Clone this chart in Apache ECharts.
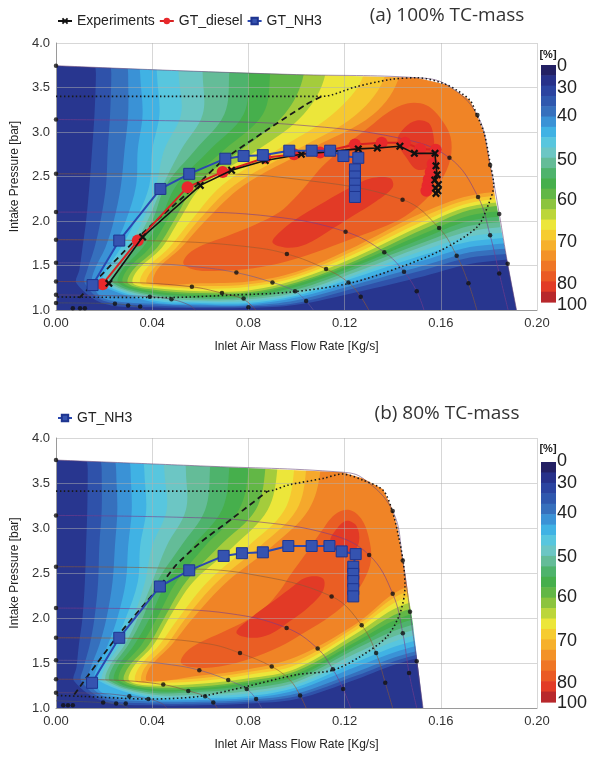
<!DOCTYPE html>
<html><head><meta charset="utf-8">
<script src="https://cdn.jsdelivr.net/npm/echarts@6/dist/echarts.min.js"></script>
<style>html,body{margin:0;padding:0;background:#fff}#c{width:599px;height:757px}</style>
</head><body><div id="c"></div>
<script>
const FONT = '"Liberation Sans", Arial, sans-serif';
// ---------- colour scale ----------
const bandColors = ['#232064','#27318a','#2b44a0','#2f58ae','#3670bd','#3a92d6','#40b2e4','#58c6de','#6cc6c4','#64bc98','#4eb36c','#46af4c','#62b746','#8cc43e','#bcd63a','#ece63a','#f6cc30','#f6b02c','#f39228','#ef7626','#ea5a24','#e23c26','#b8282c'];
const barTicks = ['0','30','40','50','60','70','80','100'];
const baseColor = '#28368f';
const levelColors = ['#2f52aa','#3670bd','#3a92d6','#40b2e4','#58c6de','#6cc6c4','#64bc98','#4eb36c','#46af4c','#62b746','#a4cc3c','#ece63a','#f6c830','#f5a82c','#f08426'];
const hotColors = ['#ea5e24','#e23a26','#e23a26'];

// ---------- contour bands : left branches (x at given P) ----------
const leftP = [3.65, 3.2, 2.8, 2.4, 2.0, 1.7, 1.45, 1.3];
const aLeftX = [
 [.0166,.0160,.0150,.0139,.0125,.0110,.0097,.0085],
 [.0230,.0225,.0215,.0208,.0185,.0160,.0130,.0120],
 [.0300,.0300,.0285,.0270,.0240,.0205,.0160,.0150],
 [.0350,.0360,.0340,.0333,.0290,.0240,.0190,.0175],
 [.0420,.0430,.0400,.0388,.0330,.0270,.0210,.0195],
 [.0510,.0520,.0450,.0416,.0360,.0295,.0225,.0210],
 [.0610,.0610,.0520,.0444,.0380,.0315,.0240,.0225],
 [.0720,.0700,.0580,.0457,.0400,.0330,.0255,.0240],
 [.0800,.0780,.0640,.0500,.0430,.0360,.0275,.0260],
 [.0890,.0860,.0700,.0540,.0460,.0390,.0295,.0280],
 [.1030,.0950,.0770,.0580,.0490,.0420,.0320,.0300],
 [.1120,.1030,.0840,.0610,.0510,.0440,.0340,.0320],
 [.1280,.1150,.0920,.0690,.0560,.0470,.0370,.0350],
 [.1370,.1250,.1000,.0740,.0590,.0500,.0400,.0380],
 [.1430,.1320,.1050,.0780,.0620,.0520,.0420,.0410]
];
const aBottomX = [0.02, 0.04, 0.06, 0.08, 0.10, 0.125, 0.153, 0.175, 0.21];
const aBottomP = [
 [1.07,1.03,1.02,1.025,1.06,1.20,1.38,1.53,1.60],
 [1.10,1.05,1.035,1.04,1.08,1.25,1.45,1.60,1.65],
 [1.13,1.07,1.05,1.05,1.11,1.29,1.50,1.66,1.70],
 [1.16,1.09,1.065,1.065,1.14,1.33,1.56,1.72,1.76],
 [null,1.11,1.08,1.08,1.16,1.37,1.62,1.78,1.82],
 [null,1.13,1.095,1.10,1.18,1.40,1.67,1.84,1.88],
 [null,1.15,1.11,1.12,1.20,1.43,1.72,1.90,1.95],
 [null,1.17,1.13,1.14,1.23,1.47,1.76,1.96,2.00],
 [null,1.19,1.15,1.16,1.26,1.50,1.81,2.02,2.06],
 [null,1.21,1.17,1.18,1.29,1.53,1.86,2.08,2.12],
 [null,1.23,1.19,1.20,1.31,1.56,1.91,2.14,2.18],
 [null,1.25,1.21,1.22,1.34,1.60,1.96,2.18,2.22],
 [null,1.27,1.24,1.26,1.37,1.64,2.00,2.22,2.26],
 [null,1.29,1.27,1.29,1.40,1.68,2.05,2.26,2.30],
 [null,null,1.30,1.32,1.43,1.72,2.10,2.30,2.36]
];
const aHot16 = [[0.053,1.52],[0.055,1.63],[0.061,1.73],[0.071,1.83],[0.083,1.96],[0.093,2.10],[0.099,2.25],[0.104,2.40],[0.111,2.62],[0.121,2.86],[0.130,3.05],[0.138,3.22],[0.146,3.32],[0.154,3.30],[0.160,3.15],[0.164,2.95],[0.164,2.70],[0.160,2.45],[0.154,2.25],[0.145,2.05],[0.135,1.92],[0.122,1.79],[0.108,1.65],[0.095,1.54],[0.082,1.47],[0.068,1.44],[0.058,1.45]];
const aHot17a = [[0.090,1.76],[0.094,1.90],[0.102,2.06],[0.112,2.22],[0.122,2.37],[0.131,2.48],[0.139,2.48],[0.140,2.38],[0.133,2.22],[0.123,2.05],[0.113,1.88],[0.104,1.74],[0.096,1.70]];
const aHot17b = [[0.142,2.90],[0.145,3.05],[0.150,3.13],[0.155,3.10],[0.157,2.95],[0.157,2.75],[0.155,2.60],[0.150,2.58],[0.146,2.70]];
const aEdge = [[0,3.745],[0.05,3.69],[0.10,3.645],[0.15,3.61],[0.1625,3.53],[0.172,3.36],[0.175,3.19],[0.178,2.99],[0.1805,2.65],[0.1825,2.28],[0.1915,1.0]];

const bLeftX = [
 [.0132,.0130,.0125,.0120,.0110,.0095,.0085,.0075],
 [.0190,.0190,.0180,.0175,.0160,.0140,.0115,.0105],
 [.0250,.0255,.0245,.0235,.0210,.0180,.0145,.0135],
 [.0310,.0315,.0300,.0290,.0255,.0215,.0170,.0160],
 [.0367,.0375,.0350,.0340,.0290,.0240,.0190,.0180],
 [.0450,.0460,.0400,.0370,.0320,.0265,.0205,.0195],
 [.0540,.0540,.0460,.0400,.0340,.0285,.0220,.0210],
 [.0640,.0620,.0520,.0420,.0360,.0300,.0235,.0225],
 [.0720,.0690,.0570,.0460,.0390,.0325,.0255,.0245],
 [.0800,.0760,.0620,.0500,.0420,.0355,.0275,.0265],
 [.0870,.0830,.0680,.0540,.0450,.0385,.0300,.0285],
 [.0920,.0880,.0740,.0570,.0470,.0405,.0320,.0305],
 [.0990,.0950,.0800,.0630,.0510,.0430,.0345,.0330],
 [.1040,.1000,.0850,.0670,.0540,.0460,.0370,.0355],
 [.1100,.1050,.0900,.0710,.0570,.0480,.0390,.0380]
];
const bBottomX = [0.02, 0.04, 0.06, 0.08, 0.10, 0.125, 0.143, 0.16, 0.20];
const bBottomP = [
 [1.07,1.03,1.03,1.05,1.10,1.32,1.50,1.60,1.64],
 [1.10,1.05,1.05,1.07,1.13,1.36,1.54,1.64,1.68],
 [1.13,1.07,1.07,1.09,1.16,1.40,1.58,1.68,1.72],
 [1.16,1.09,1.09,1.11,1.20,1.46,1.64,1.74,1.78],
 [null,1.11,1.11,1.13,1.23,1.51,1.70,1.80,1.84],
 [null,1.13,1.13,1.16,1.26,1.56,1.76,1.86,1.90],
 [null,1.15,1.15,1.19,1.29,1.61,1.82,1.92,1.96],
 [null,1.17,1.18,1.22,1.32,1.66,1.88,1.98,2.02],
 [null,1.19,1.20,1.25,1.35,1.70,1.94,2.04,2.08],
 [null,1.21,1.22,1.28,1.38,1.74,2.00,2.10,2.14],
 [null,1.23,1.24,1.30,1.41,1.78,2.06,2.16,2.20],
 [null,1.25,1.27,1.33,1.44,1.83,2.13,2.23,2.27],
 [null,1.28,1.30,1.37,1.48,1.87,2.20,2.30,2.34],
 [null,1.30,1.33,1.40,1.52,1.91,2.26,2.36,2.40],
 [null,null,1.36,1.43,1.57,1.94,2.31,2.41,2.45]
];
const bHot16 = [[0.052,1.50],[0.054,1.62],[0.060,1.73],[0.069,1.84],[0.079,1.97],[0.087,2.12],[0.093,2.30],[0.098,2.50],[0.104,2.72],[0.110,2.95],[0.116,3.15],[0.122,3.20],[0.127,3.10],[0.130,2.90],[0.131,2.65],[0.128,2.42],[0.122,2.20],[0.114,2.02],[0.104,1.85],[0.093,1.68],[0.081,1.55],[0.068,1.46],[0.058,1.45]];
const bHot17a = [[0.075,1.84],[0.081,2.00],[0.089,2.16],[0.097,2.32],[0.104,2.45],[0.111,2.44],[0.111,2.30],[0.105,2.12],[0.097,1.96],[0.089,1.82],[0.081,1.78]];
const bHot17b = [[0.114,2.85],[0.117,3.00],[0.121,3.08],[0.125,3.02],[0.126,2.85],[0.123,2.72],[0.118,2.72]];
const bEdge = [[0,3.755],[0.06,3.69],[0.119,3.62],[0.1277,3.55],[0.136,3.43],[0.1397,3.22],[0.142,3.0],[0.1451,2.5],[0.1484,1.94],[0.1526,1.0]];

// ---------- map lines ----------
const aOutline = [[0,3.40],[0.1105,3.40],[0.125,3.51],[0.139,3.59],[0.15,3.61],[0.1625,3.53],[0.172,3.36],[0.175,3.19],[0.178,2.99],[0.1805,2.65],[0.182,2.4],[0.180,2.2],[0.175,1.93],[0.160,1.67],[0.143,1.48],[0.122,1.30],[0.097,1.20],[0.075,1.17],[0.045,1.14],[0,1.146]];
const aDashed = [[0.0097,1.135],[0.0347,1.83],[0.0596,2.43],[0.0707,2.71],[0.104,3.31],[0.1105,3.40]];
const bOutline = [[0,3.41],[0.088,3.41],[0.097,3.48],[0.111,3.55],[0.119,3.60],[0.1277,3.53],[0.136,3.42],[0.1397,3.2],[0.1425,2.9],[0.1445,2.6],[0.1451,2.35],[0.143,2.05],[0.1375,1.79],[0.1264,1.57],[0.1152,1.42],[0.100,1.37],[0.0793,1.24],[0.0599,1.13],[0.039,1.10],[0.01,1.13],[0,1.14]];
const bDashed = [[0.0076,1.15],[0.025,1.78],[0.043,2.35],[0.05,2.59],[0.0596,2.83],[0.0735,3.11],[0.088,3.41]];

const aSpeed = [
 [[0,3.745],[0.05,3.69],[0.10,3.645],[0.15,3.61],[0.1625,3.53],[0.1752,3.19],[0.1805,2.63],[0.1843,2.08],[0.1878,1.52],[0.1915,1.0]],
 [[0,3.14],[0.06,3.12],[0.10,3.08],[0.143,2.93],[0.1636,2.71],[0.1755,2.27],[0.1805,1.84],[0.1843,1.41],[0.188,1.0]],
 [[0,2.53],[0.06,2.53],[0.10,2.47],[0.1441,2.24],[0.1593,1.92],[0.1666,1.61],[0.1715,1.30],[0.175,1.0]],
 [[0,2.10],[0.05,2.10],[0.09,2.05],[0.1204,1.88],[0.1365,1.65],[0.1447,1.43],[0.150,1.21],[0.153,1.0]],
 [[0,1.79],[0.05,1.77],[0.08,1.71],[0.096,1.63],[0.1123,1.46],[0.1216,1.31],[0.1267,1.15],[0.130,1.0]],
 [[0,1.53],[0.04,1.52],[0.06,1.48],[0.075,1.42],[0.09,1.31],[0.0994,1.21],[0.104,1.10],[0.107,1.0]],
 [[0,1.32],[0.03,1.31],[0.0565,1.26],[0.069,1.19],[0.078,1.12],[0.083,1.0]],
 [[0,1.17],[0.025,1.16],[0.039,1.15],[0.048,1.12],[0.055,1.06],[0.058,1.0]],
 [[0,1.08],[0.0245,1.07],[0.033,1.04],[0.037,1.0]]
];
const aDots = [[0,3.745],[0.1752,3.19],[0.1805,2.63],[0.1843,2.08],[0.1878,1.52],[0,3.14],[0.1636,2.71],[0.1755,2.27],[0.1805,1.84],[0.1843,1.41],[0,2.53],[0.1441,2.24],[0.1593,1.92],[0.1666,1.61],[0.1715,1.30],[0,2.10],[0.1204,1.88],[0.1365,1.65],[0.1447,1.43],[0.150,1.21],[0,1.79],[0.096,1.63],[0.1123,1.46],[0.1216,1.31],[0.1267,1.15],[0,1.53],[0.075,1.42],[0.09,1.31],[0.0994,1.21],[0.104,1.10],[0,1.32],[0.0565,1.26],[0.069,1.19],[0.078,1.13],[0.08,1.03],[0,1.17],[0.039,1.15],[0.048,1.12],[0,1.08],[0.0245,1.07],[0.03,1.05],[0.035,1.04],[0.007,1.02],[0.010,1.02],[0.012,1.02]];
const bSpeed = [
 [[0,3.755],[0.06,3.69],[0.119,3.62],[0.1277,3.55],[0.140,3.19],[0.1442,2.64],[0.1472,2.07],[0.150,1.52],[0.1526,1.0]],
 [[0,3.14],[0.05,3.12],[0.08,3.08],[0.114,2.93],[0.1302,2.70],[0.140,2.27],[0.1442,1.83],[0.1468,1.39],[0.150,1.0]],
 [[0,2.57],[0.05,2.55],[0.08,2.49],[0.1146,2.24],[0.1271,1.92],[0.1331,1.61],[0.1369,1.28],[0.14,1.0]],
 [[0,2.11],[0.04,2.10],[0.072,2.05],[0.0959,1.89],[0.1088,1.66],[0.1151,1.43],[0.1194,1.21],[0.1225,1.0]],
 [[0,1.78],[0.04,1.77],[0.064,1.71],[0.0765,1.61],[0.0897,1.46],[0.0973,1.31],[0.1015,1.14],[0.104,1.0]],
 [[0,1.53],[0.032,1.52],[0.048,1.48],[0.0596,1.42],[0.0716,1.31],[0.0793,1.21],[0.0832,1.10],[0.0855,1.0]],
 [[0,1.32],[0.024,1.31],[0.0446,1.26],[0.055,1.19],[0.062,1.13],[0.0654,1.06],[0.067,1.0]],
 [[0,1.17],[0.02,1.16],[0.0305,1.13],[0.0384,1.10],[0.044,1.05],[0.046,1.0]],
 [[0,1.08],[0.0196,1.06],[0.027,1.04],[0.03,1.0]]
];
const bDots = [[0,3.755],[0.140,3.19],[0.1442,2.64],[0.1472,2.07],[0.150,1.52],[0,3.14],[0.1302,2.70],[0.140,2.27],[0.1442,1.83],[0.1468,1.39],[0,2.57],[0.1146,2.24],[0.1271,1.92],[0.1331,1.61],[0.1369,1.28],[0,2.11],[0.0959,1.89],[0.1088,1.66],[0.1151,1.43],[0.1194,1.21],[0,1.78],[0.0765,1.61],[0.0897,1.46],[0.1015,1.14],[0,1.53],[0.0596,1.42],[0.0716,1.31],[0.0793,1.21],[0.0832,1.10],[0,1.32],[0.0446,1.26],[0.055,1.19],[0.062,1.13],[0.0654,1.06],[0,1.17],[0.0305,1.13],[0.0384,1.10],[0.0196,1.06],[0.025,1.05],[0.029,1.05],[0.003,1.03],[0.005,1.03],[0.007,1.03]];

// ---------- operating lines ----------
const aExperiments = [[0.022,1.30],[0.036,1.82],[0.060,2.40],[0.073,2.57],[0.087,2.68],[0.102,2.75],[0.114,2.78],[0.1257,2.81],[0.1336,2.82],[0.143,2.84],[0.149,2.76],[0.1576,2.76],[0.158,2.62],[0.1585,2.52],[0.1575,2.46],[0.159,2.41],[0.1578,2.37],[0.1588,2.34],[0.158,2.31]];
const aDiesel = [[0.0194,1.29],[0.034,1.78],[0.0547,2.38],[0.0693,2.55],[0.087,2.71],[0.099,2.75],[0.1098,2.77],[0.1243,2.86],[0.1354,2.88],[0.1451,2.88],[0.1514,2.81],[0.1579,2.80],[0.1566,2.64],[0.1558,2.55],[0.155,2.47],[0.1545,2.40],[0.154,2.34]];
const aNH3 = [[0.0152,1.28],[0.0263,1.78],[0.0434,2.36],[0.0554,2.53],[0.0704,2.70],[0.078,2.73],[0.086,2.74],[0.097,2.79],[0.1063,2.79],[0.114,2.79],[0.1195,2.73],[0.1257,2.71],[0.1243,2.58],[0.1243,2.50],[0.1243,2.42],[0.1243,2.34],[0.1243,2.27]];
const bNH3 = [[0.0150,1.28],[0.0263,1.78],[0.0432,2.35],[0.0554,2.53],[0.0697,2.69],[0.0773,2.72],[0.086,2.73],[0.0966,2.80],[0.1063,2.80],[0.1137,2.80],[0.1188,2.74],[0.1246,2.71],[0.1236,2.57],[0.1236,2.49],[0.1236,2.41],[0.1236,2.32],[0.1236,2.24]];

// ---------- build ----------
function levelPolys(lx, bx, bp){
  return lx.map((row,i)=>{
    const pts=[[row[0],4.3]];
    row.forEach((x,j)=>pts.push([x,leftP[j]]));
    const last=row[row.length-1];
    bx.forEach((x,j)=>{const p=bp[i][j]; if(p!=null && x>last+0.003) pts.push([x,p]);});
    const end=pts[pts.length-1];
    pts.push([0.26,end[1]],[0.26,4.3]);
    return pts;
  });
}
function fieldSeries(idx, lx, bx, bp, hot, edge){
  const polys=[[[-0.01,0.9],[-0.01,4.3],[0.26,4.3],[0.26,0.9]]].concat(levelPolys(lx,bx,bp), hot);
  const cols=[baseColor].concat(levelColors, hotColors);
  const mask=edge.concat([[edge[edge.length-1][0],0.9],[0.26,0.9],[0.26,4.3],[-0.01,4.3],[-0.01,edge[0][1]]]);
  return [{
    type:'custom', xAxisIndex:idx, yAxisIndex:idx, clip:true, silent:true, z:1,
    data: polys.map(()=>[0.1,2]),
    renderItem:(params, api)=>({type:'polygon', shape:{points:polys[params.dataIndex].map(p=>api.coord(p)), smooth: params.dataIndex===0?0:0.35}, style:{fill:cols[params.dataIndex]}})
  },{
    type:'custom', xAxisIndex:idx, yAxisIndex:idx, clip:true, silent:true, z:2,
    data:[[0.1,2]],
    renderItem:(params, api)=>({type:'polygon', shape:{points:mask.map(p=>api.coord(p))}, style:{fill:'#ffffff'}})
  }];
}
const speedCols=['#6a4a7a','#7a3c8c','#8a5a3a','#7a3c8c','#9a5a30','#6a5a9a','#8a4a3a','#6a4a6a','#555'];
function mapLines(idx, speed, dots, outline, dashed){
  const s=[];
  speed.forEach((d,i)=>s.push({type:'line', xAxisIndex:idx, yAxisIndex:idx, data:d, smooth:0.4, showSymbol:false, silent:true, z:4,
    lineStyle:{color:speedCols[i], width:1, opacity:0.6}}));
  s.push({type:'line', xAxisIndex:idx, yAxisIndex:idx, data:outline, smooth:0.3, showSymbol:false, silent:true, z:5,
    lineStyle:{color:'#1a1a1a', width:1.6, type:[1.5,2.5]}});
  s.push({type:'line', xAxisIndex:idx, yAxisIndex:idx, data:dashed, smooth:0.2, showSymbol:false, silent:true, z:5,
    lineStyle:{color:'#1a1a1a', width:1.8, type:[6,4]}});
  s.push({type:'scatter', xAxisIndex:idx, yAxisIndex:idx, data:dots, symbolSize:4.5, silent:true, z:5, itemStyle:{color:'#111'}});
  return s;
}
const XSYM='path://M2,0L5,3L8,0L10,2L7,5L10,8L8,10L5,7L2,10L0,8L3,5L0,2Z';
function nh3(idx,data){return {name:'GT_NH3', type:'line', xAxisIndex:idx, yAxisIndex:idx, data:data, symbol:'rect', symbolSize:11, z:8,
  lineStyle:{color:'#2a48b0', width:2}, itemStyle:{color:'#3553b0', borderColor:'#1e3590', borderWidth:1}};}

function mkX(i){return {gridIndex:i, type:'value', min:0, max:0.2, interval:0.04, z:3,
  name:'Inlet Air Mass Flow Rate [Kg/s]', nameLocation:'middle', nameGap:31,
  nameTextStyle:{fontSize:12, color:'#222', fontFamily:FONT},
  axisLine:{onZero:false, lineStyle:{color:'#9a9a9a'}}, axisTick:{show:false},
  axisLabel:{formatter:v=>v.toFixed(2), fontSize:13, color:'#333', fontFamily:FONT, margin:7},
  splitLine:{show:true, lineStyle:{color:'rgba(175,175,175,0.5)', width:1}}};}
function mkY(i){return {gridIndex:i, type:'value', min:1, max:4, interval:0.5, z:3,
  name:'Intake Pressure [bar]', nameLocation:'middle', nameGap:30, nameRotate:90,
  nameTextStyle:{fontSize:12, color:'#222', fontFamily:FONT},
  axisLine:{onZero:false, lineStyle:{color:'#9a9a9a'}}, axisTick:{show:false},
  axisLabel:{formatter:v=>v.toFixed(1), fontSize:13, color:'#333', fontFamily:FONT, margin:6},
  splitLine:{show:true, lineStyle:{color:'rgba(175,175,175,0.5)', width:1}}};}

function colorbar(top, bottom, labelY, pctY){
  const els=[]; const h=(bottom-top)/bandColors.length;
  bandColors.forEach((c,i)=>els.push({type:'rect', silent:true, shape:{x:541, y:top+i*h, width:15, height:h+0.6}, style:{fill:c}}));
  barTicks.forEach((t,i)=>els.push({type:'text', silent:true, x:557, y:labelY[i],
    style:{text:t, fill:'#222', font:'18px '+FONT, textAlign:'left', textVerticalAlign:'middle', align:'left', verticalAlign:'middle'}}));
  els.push({type:'text', silent:true, x:548, y:pctY, style:{text:'[%]', fill:'#222', font:'bold 11px '+FONT, textAlign:'center', textVerticalAlign:'middle', align:'center', verticalAlign:'middle'}});
  return els;
}
function titleEl(text, y){return {type:'text', silent:true, x:447, y:y,
  style:{text:text, fill:'#333', font:'19px "Open Sans", sans-serif', textAlign:'center', textVerticalAlign:'middle', align:'center', verticalAlign:'middle'}};}

const series = [].concat(
  fieldSeries(0, aLeftX, aBottomX, aBottomP, [aHot16, aHot17a, aHot17b], aEdge),
  mapLines(0, aSpeed, aDots, aOutline, aDashed),
  [{name:'GT_diesel', type:'line', data:aDiesel, symbol:'circle', symbolSize:12, z:6,
     lineStyle:{color:'#d82222', width:2}, itemStyle:{color:'#e8282c'}},
   {name:'Experiments', type:'line', data:aExperiments, symbol:XSYM, symbolSize:8, z:7,
     lineStyle:{color:'#111', width:1.6}, itemStyle:{color:'#111'}},
   nh3(0,aNH3)],
  fieldSeries(1, bLeftX, bBottomX, bBottomP, [bHot16, bHot17a, bHot17b], bEdge),
  mapLines(1, bSpeed, bDots, bOutline, bDashed),
  [nh3(1,bNH3)]
);

const chart = echarts.init(document.getElementById('c'), null, {renderer:'canvas'});
chart.setOption({
  animation:false, backgroundColor:'#fff',
  grid:[{left:56, top:43, width:481, height:267}, {left:56, top:438, width:481, height:270}],
  xAxis:[mkX(0), mkX(1)], yAxis:[mkY(0), mkY(1)],
  legend:[
    {data:['Experiments','GT_diesel','GT_NH3'], left:52, top:9, itemGap:4, itemWidth:14, itemHeight:8,
     textStyle:{fontSize:14, color:'#222', fontFamily:FONT}, selectedMode:false},
    {data:['GT_NH3'], left:52, top:406, itemGap:4, itemWidth:14, itemHeight:8,
     textStyle:{fontSize:14, color:'#222', fontFamily:FONT}, selectedMode:false}
  ],
  graphic:{elements:[].concat(
    [titleEl('(a) 100% TC-mass', 16), titleEl('(b) 80% TC-mass', 414)],
    colorbar(65, 302, [66,88,116,160,200,242,284,305], 55),
    colorbar(462, 702, [461,483,513,557,597,641,683,703], 449)
  )},
  series: series
});
</script></body></html>
